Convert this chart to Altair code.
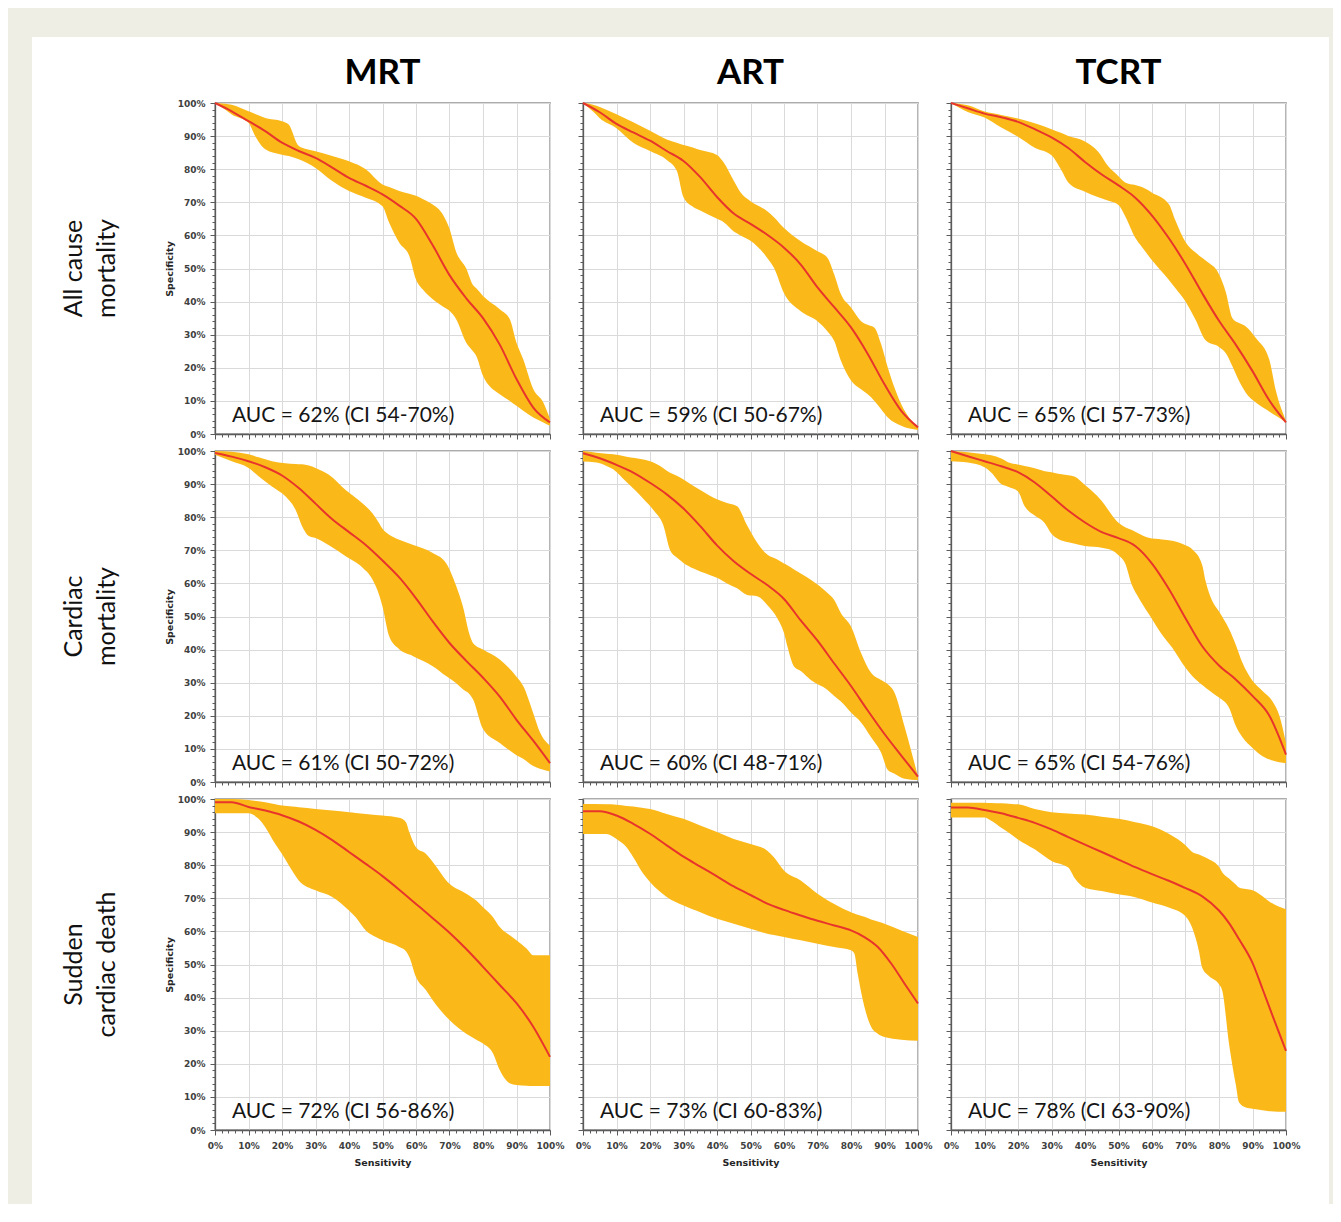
import altair as alt
import pandas as pd

COLS = ["MRT", "ART", "TCRT"]
ROW_LABELS = ["All cause\nmortality", "Cardiac\nmortality", "Sudden\ncardiac death"]
AUC_LABELS = [
    "AUC = 62% (CI 54-70%)", "AUC = 59% (CI 50-67%)", "AUC = 65% (CI 57-73%)",
    "AUC = 61% (CI 50-72%)", "AUC = 60% (CI 48-71%)", "AUC = 65% (CI 54-76%)",
    "AUC = 72% (CI 56-86%)", "AUC = 73% (CI 60-83%)", "AUC = 78% (CI 63-90%)",
]
MED_X = [0, 5, 10, 15, 20, 25, 30, 35, 40, 45, 50, 55, 60, 65, 70, 75, 80, 85, 90, 95, 100]

# ---- All cause mortality ----
MRT_ALL_X = [0, 3, 5, 10, 12, 15, 20, 22, 25, 30, 35, 40, 45, 50, 52, 55, 58, 60, 62, 65, 68, 70, 72, 75, 77, 78, 80, 85, 88, 90, 92, 95, 98, 100]
MRT_ALL_UP = [100, 99.8, 99.5, 97.5, 96.7, 95.5, 94.5, 93.5, 87, 85.4, 84, 82.4, 80, 75.4, 74.6, 73.4, 72.6, 72, 71, 69.3, 66.3, 62, 55, 50, 45, 44, 41.7, 37.7, 34.7, 27.6, 22.6, 13.6, 9.5, 4.5]
MRT_ALL_LO = [100, 98, 96.5, 94, 90, 86, 84.4, 84, 83, 80.4, 76.4, 73.4, 71.4, 68.8, 63.8, 57.8, 53.8, 46.7, 43.7, 40.7, 38.5, 37.2, 34.7, 27.6, 25, 23.6, 17.6, 12, 10, 8.5, 7, 5, 3.5, 2.5]
MRT_ALL_MX = MED_X
MRT_ALL_MED = [100, 97.5, 94.5, 91.5, 88, 85.5, 83.4, 80.5, 77.4, 75, 72.4, 69, 65, 57, 48, 41, 35, 27, 16.6, 8, 3.5]

ART_ALL_X = [0, 3, 5, 10, 15, 20, 25, 28, 30, 33, 35, 40, 42, 45, 47, 50, 55, 57, 60, 65, 70, 73, 75, 77, 80, 83, 85, 87, 89, 91, 95, 100]
ART_ALL_UP = [100, 99.5, 98.8, 96.6, 94.2, 91.6, 89, 88, 87.3, 86.5, 85.8, 84.3, 82, 76.5, 73, 70.3, 67.3, 65.5, 62.2, 58.2, 55.2, 53.2, 48.2, 42.2, 38.2, 34.1, 33, 32.1, 27.1, 20, 9, 2]
ART_ALL_LO = [100, 97.4, 95.4, 92.4, 88, 85.5, 82.8, 79.5, 71.5, 68.5, 67.5, 65, 64, 61.2, 60, 58.4, 53.2, 50.2, 42.5, 37.1, 34.1, 31, 28.1, 22.1, 16.2, 13.5, 12, 10, 7.5, 5, 2.5, 1.2]
ART_ALL_MX = MED_X
ART_ALL_MED = [100, 97.2, 93.7, 91.1, 88.6, 85.5, 82.5, 77.6, 71.6, 66.6, 63.5, 60.2, 56.3, 51.2, 44.3, 38.3, 32.2, 24.2, 15, 7, 2]

TCRT_ALL_X = [0, 5, 10, 15, 20, 25, 30, 33, 35, 40, 44, 47, 50, 52, 55, 57, 60, 65, 67, 70, 73, 76, 80, 82, 84, 86, 88, 91, 95, 97, 100]
TCRT_ALL_UP = [100, 99.3, 97.4, 96.4, 95.3, 93.9, 92.1, 90.9, 90, 88.4, 85.2, 80.8, 77.9, 76, 75.2, 74.6, 72.9, 69.5, 64.5, 58, 54.8, 52.4, 48.3, 43, 35, 33.5, 32.5, 29, 22.5, 13, 4]
TCRT_ALL_LO = [100, 97.3, 95.6, 92.6, 89.8, 86.5, 84.2, 79.6, 76, 73.2, 71.5, 70.5, 69.2, 65.8, 59.3, 56.5, 52.5, 46.6, 44, 40, 34.5, 28.3, 26.3, 24.5, 20.5, 16, 12.5, 9.5, 6.8, 5.5, 3.5]
TCRT_ALL_MX = MED_X
TCRT_ALL_MED = [100, 98.4, 96.8, 95.7, 94.3, 92.1, 89.6, 86.4, 82.2, 78.4, 75.1, 71.4, 66, 59.2, 51.3, 42.5, 34.2, 27, 19, 10.2, 3.5]

# ---- Cardiac mortality ----
MRT_CARD_X = [0, 5, 10, 13, 17, 21, 24, 26, 28, 30, 34, 39, 44, 47, 49, 50, 52, 55, 59, 65, 69, 72, 74, 76, 77, 80, 85, 90, 92, 95, 97, 100]
MRT_CARD_UP = [100, 99.8, 99, 98.1, 96.9, 96.3, 96.1, 96, 95.6, 94.9, 92.8, 88.2, 84.2, 81.2, 78.2, 76.5, 74.7, 73.2, 71.7, 69.2, 66.1, 59.2, 53, 44.5, 42, 40, 37, 31.8, 29, 20.8, 15, 11]
MRT_CARD_LO = [98.9, 96.9, 94.9, 92.4, 89.3, 86.3, 82.3, 77.3, 74.3, 73.7, 71.5, 68.2, 64.8, 61.2, 56.5, 53, 44, 40.1, 38.1, 35, 32, 29.8, 28, 26.5, 25, 16, 11.8, 8.1, 7, 4.8, 4, 3.2]
MRT_CARD_MX = MED_X
MRT_CARD_MED = [99.4, 98.3, 96.9, 95.1, 92.6, 88.8, 84.1, 79.4, 75.5, 71.6, 66.9, 61.8, 55.5, 48.5, 42, 36.6, 31.5, 25.8, 18.8, 12.5, 5.7]

ART_CARD_X = [0, 4, 7, 9, 13, 18, 21, 24, 26, 28, 30, 33, 35, 38, 40, 43, 46, 49, 52, 55, 58, 60, 61, 63, 65, 68, 73, 75, 77, 80, 83, 86, 89, 91, 93, 96, 100]
ART_CARD_UP = [100, 99.5, 99.2, 99, 98.3, 97.4, 96.5, 94.8, 93.4, 92.5, 91.4, 89.4, 88.2, 86.4, 85.4, 84.3, 83.3, 77.5, 72.3, 68.7, 67.2, 66, 65.5, 64.2, 63, 61.1, 57.1, 55, 51, 47, 39, 33, 30.8, 29.5, 27, 16.7, 1.6]
ART_CARD_LO = [96.8, 96.5, 95.5, 94.5, 90.6, 85.6, 82.2, 77.5, 70.1, 67.8, 66.2, 64.5, 63.6, 62.5, 61.7, 60, 58.5, 56.5, 56.1, 53.5, 49.5, 45, 41, 34.9, 33.5, 30.8, 27.8, 26, 24.3, 21, 18, 13.5, 8.8, 3.6, 2.5, 1, 0.6]
ART_CARD_MX = MED_X
ART_CARD_MED = [99.3, 97.8, 95.8, 93.5, 90.4, 86.9, 82.6, 77.3, 71.5, 66.7, 62.9, 59.5, 55.3, 48.8, 42.7, 35.8, 29, 21.6, 14.5, 8, 1.6]

TCRT_CARD_X = [0, 5, 10, 12, 15, 17, 20, 22, 25, 28, 30, 32, 35, 37, 40, 45, 48, 50, 52, 54, 56, 59, 63, 66, 70, 72, 75, 76, 78, 80, 83, 85, 87, 90, 93, 96, 98, 100]
TCRT_CARD_UP = [100, 99.6, 99, 98.7, 97.7, 96.6, 95.9, 95.5, 94.8, 93.9, 93.6, 93.1, 92.7, 92.2, 89.7, 84.9, 80.7, 78.3, 77, 76.1, 75.1, 73.8, 73.3, 72.9, 71.5, 70.3, 65.5, 60.7, 54.7, 51.5, 46.2, 41.5, 36, 30.6, 27.5, 24.3, 20.1, 11.8]
TCRT_CARD_LO = [96.9, 96.5, 95.1, 93.5, 90, 89.2, 87.8, 83.3, 80.5, 78.2, 75, 73.4, 72.4, 72, 71.3, 70.8, 70, 68.5, 66, 59.5, 55.7, 50.8, 44.5, 40.6, 34.5, 32, 29.3, 28.5, 27, 25.5, 22.4, 17, 13.5, 10.3, 7.8, 6.5, 6, 5.7]
TCRT_CARD_MX = MED_X
TCRT_CARD_MED = [100, 98.4, 96.9, 95.4, 93.6, 90.5, 86.3, 82, 78.4, 75.5, 73.7, 71.3, 66, 58.4, 49.5, 41, 35.2, 31, 26, 20.1, 8.3]

# ---- Sudden cardiac death ----
MRT_SCD_X = [0, 5, 10, 13, 15, 18, 20, 23, 25, 30, 35, 40, 42, 45, 48, 50, 55, 57, 58, 60, 63, 65, 70, 75, 78, 80, 83, 85, 88, 90, 93, 95, 100]
MRT_SCD_UP = [100, 100, 99.7, 99.3, 99, 98.4, 98, 97.7, 97.5, 97, 96.5, 96, 95.8, 95.5, 95.2, 95, 94.3, 93, 90, 85.4, 83.4, 81, 74.4, 71.4, 69.3, 67.3, 64.3, 61.3, 58.8, 57.3, 54.8, 52.8, 52.8]
MRT_SCD_LO = [95.7, 95.7, 95.7, 94, 91.5, 86.4, 83.4, 78.4, 75.4, 72.4, 70.4, 66.3, 64.3, 60.3, 58.3, 57.3, 55.3, 54, 52.3, 46.2, 42.2, 39.2, 33.2, 29.1, 27.3, 26.1, 23.1, 18.1, 14.1, 13.6, 13.4, 13.3, 13.3]
MRT_SCD_MX = MED_X
MRT_SCD_MED = [99, 99, 97.6, 96.5, 95.1, 93.2, 90.7, 87.6, 84, 80.4, 76.7, 72.6, 68.3, 64, 59.6, 54.7, 49.3, 43.8, 38.3, 31.2, 22.1]

ART_SCD_X = [0, 7, 10, 13, 15, 18, 20, 25, 30, 35, 40, 45, 50, 55, 57, 60, 65, 70, 75, 80, 81, 82, 84, 86, 88, 90, 95, 100]
ART_SCD_UP = [98.5, 98.4, 98.3, 97.9, 97.7, 97.3, 97, 95.5, 94, 92, 90, 87.9, 86.4, 84.4, 82.4, 78.4, 75.4, 71.4, 68.3, 65.8, 65.4, 65, 64.4, 63.6, 63, 62.3, 60.3, 58.3]
ART_SCD_LO = [89.4, 89.4, 87.9, 85.4, 82.4, 77.4, 74.9, 70.4, 67.8, 65.8, 63.8, 62.3, 60.8, 59.3, 58.9, 58.3, 57.3, 56.3, 55.3, 54.3, 53.3, 47.2, 37.2, 31.2, 29.1, 28.1, 27.3, 27]
ART_SCD_MX = [0, 5, 10, 15, 20, 25, 30, 35, 40, 45, 50, 55, 60, 65, 70, 75, 80, 84, 88, 92, 96, 100]
ART_SCD_MED = [96.3, 96.3, 95, 92.5, 89.5, 86, 82.6, 79.6, 76.6, 73.6, 71, 68.4, 66.5, 64.8, 63.2, 61.8, 60.3, 58.3, 55.3, 50.3, 44.2, 38.2]

TCRT_SCD_X = [0, 10, 12, 15, 18, 20, 25, 30, 35, 37, 40, 45, 50, 55, 60, 65, 70, 72, 74, 75, 77, 80, 81, 83, 85, 86, 88, 90, 93, 95, 100]
TCRT_SCD_UP = [98.9, 98.9, 98.8, 98.7, 98.5, 98.4, 97, 96, 95.6, 95.5, 95.3, 94.6, 94, 93, 91.8, 89.5, 86, 84, 83.2, 82.8, 81.8, 79.5, 77.8, 76, 74.2, 73.3, 72.8, 72.4, 70.6, 69, 66.7]
TCRT_SCD_LO = [94.4, 94.4, 93.4, 91.3, 89.3, 87.8, 84.8, 81.3, 79.3, 76, 73.2, 72.2, 71.2, 70.3, 68.7, 67.2, 64.6, 61.1, 54.1, 49, 46.5, 44, 42, 26, 13.8, 8.3, 6.8, 6.4, 6, 5.7, 5.5]
TCRT_SCD_MX = [0, 5, 10, 15, 20, 25, 30, 35, 40, 45, 50, 55, 60, 65, 70, 75, 80, 83, 86, 90, 93, 96, 100]
TCRT_SCD_MED = [97.4, 97.4, 96.7, 95.7, 94.3, 92.8, 90.8, 88.5, 86.2, 84, 81.7, 79.4, 77.3, 75.3, 73.1, 70.6, 66.3, 62.5, 57.6, 50.5, 42.6, 34.5, 23.9]

PANELS = [
    (MRT_ALL_X, MRT_ALL_UP, MRT_ALL_LO, MRT_ALL_MX, MRT_ALL_MED),
    (ART_ALL_X, ART_ALL_UP, ART_ALL_LO, ART_ALL_MX, ART_ALL_MED),
    (TCRT_ALL_X, TCRT_ALL_UP, TCRT_ALL_LO, TCRT_ALL_MX, TCRT_ALL_MED),
    (MRT_CARD_X, MRT_CARD_UP, MRT_CARD_LO, MRT_CARD_MX, MRT_CARD_MED),
    (ART_CARD_X, ART_CARD_UP, ART_CARD_LO, ART_CARD_MX, ART_CARD_MED),
    (TCRT_CARD_X, TCRT_CARD_UP, TCRT_CARD_LO, TCRT_CARD_MX, TCRT_CARD_MED),
    (MRT_SCD_X, MRT_SCD_UP, MRT_SCD_LO, MRT_SCD_MX, MRT_SCD_MED),
    (ART_SCD_X, ART_SCD_UP, ART_SCD_LO, ART_SCD_MX, ART_SCD_MED),
    (TCRT_SCD_X, TCRT_SCD_UP, TCRT_SCD_LO, TCRT_SCD_MX, TCRT_SCD_MED),
]

# ---- styling ----
W, H = 335, 331
COL_GAP, ROW_GAP = 33, 17
BAND_COLOR = "#FBB919"
LINE_COLOR = "#E8352C"
FRAME_BG = "#EFEEE5"
TICKS = list(range(0, 101, 2))
MAJOR = "datum.value % 10 === 0"
LABEL_EXPR = MAJOR + " ? datum.value + '%' : ''"
SCALE = alt.Scale(domain=[0, 100], nice=False, zero=False)


def make_axis(show_labels, title_pad, label_pad):
    kw = dict(
        values=TICKS,
        tickSize={"condition": {"test": MAJOR, "value": 5}, "value": 3},
        gridOpacity={"condition": {"test": MAJOR, "value": 1}, "value": 0},
        labelFlush=False,
        labelOverlap=False,
    )
    if show_labels:
        kw.update(labelExpr=LABEL_EXPR, labelPadding=label_pad, titlePadding=title_pad)
    else:
        kw.update(labels=False)
    return alt.Axis(**kw)


def enc_x(field, show):
    if show:
        return alt.X(field, type="quantitative", scale=SCALE,
                     axis=make_axis(True, 7, 6), title="Sensitivity")
    return alt.X(field, type="quantitative", scale=SCALE,
                 axis=make_axis(False, 0, 0), title=None)


def enc_y(field, show):
    if show:
        return alt.Y(field, type="quantitative", scale=SCALE,
                     axis=make_axis(True, 3, 5), title="Specificity")
    return alt.Y(field, type="quantitative", scale=SCALE,
                 axis=make_axis(False, 0, 0), title=None)


panels = []
for i, (bx, up, lo, mx, med) in enumerate(PANELS):
    r, c = divmod(i, 3)
    show_x = r == 2
    show_y = c == 0
    band_df = pd.DataFrame({"s": bx, "up": up, "lo": lo})
    med_df = pd.DataFrame({"s": mx, "m": med})
    band = alt.Chart(band_df).mark_area(
        color=BAND_COLOR, opacity=1, interpolate="monotone"
    ).encode(x=enc_x("s", show_x), y=enc_y("up", show_y), y2="lo")
    line = alt.Chart(med_df).mark_line(
        color=LINE_COLOR, strokeWidth=2, interpolate="monotone"
    ).encode(x=enc_x("s", show_x), y=enc_y("m", show_y))
    auc = alt.Chart(pd.DataFrame({"t": [AUC_LABELS[i]]})).mark_text(
        align="left", baseline="alphabetic", font="Lato", fontSize=21, color="#151515"
    ).encode(x=alt.value(17), y=alt.value(H - 12), text="t:N")
    layers = [band, line, auc]
    if show_y:
        row_lab = alt.Chart(pd.DataFrame({"t": [ROW_LABELS[r]]})).mark_text(
            align="center", baseline="middle", angle=270, lineBreak="\n",
            lineHeight=33, font="Lato", fontSize=25, color="#111111"
        ).encode(x=alt.value(-141), y=alt.value(H / 2), text="t:N")
        layers.append(row_lab)
    panels.append(alt.layer(*layers).properties(width=W, height=H))

grid = alt.concat(*panels, columns=3, spacing={"row": ROW_GAP, "column": COL_GAP}, bounds="flush")

GRID_W = 3 * W + 2 * COL_GAP
STEP = W + COL_GAP
head_df = pd.DataFrame({"col": COLS})
frame = alt.Chart(head_df.head(1)).mark_rect(color="white").encode(
    x=alt.value(-183), x2=alt.value(1114), y=alt.value(-16), y2=alt.value(1151)
)
titles = alt.Chart(head_df).mark_text(
    font="Lato", fontSize=35, fontWeight="bold", baseline="alphabetic", color="#000000"
).encode(
    x=alt.X("col:N", sort=COLS, axis=None,
            scale=alt.Scale(type="point", padding=(W / 2) / STEP)),
    y=alt.value(31),
    text="col:N",
)
header = alt.layer(frame, titles).properties(
    width=GRID_W, height=50, view=alt.ViewBackground(strokeOpacity=0)
)

chart = alt.vconcat(header, grid, spacing=0, bounds="flush").properties(
    padding={"left": 24, "top": 29, "right": 4, "bottom": 0},
    background=FRAME_BG,
).configure_view(
    stroke="#5a5a5a", strokeWidth=1.3
).configure_axis(
    domainColor="#5a5a5a", domainWidth=1.3, tickColor="#5a5a5a", tickWidth=1,
    gridColor="#dadada", gridWidth=1,
    labelFont="DejaVu Sans", labelFontSize=9, labelFontWeight="bold", labelColor="#404040",
    titleFont="DejaVu Sans", titleFontSize=9.5, titleFontWeight="bold", titleColor="#262626",
)

chart.save("out.html", embed_options={"renderer": "svg", "actions": False})
